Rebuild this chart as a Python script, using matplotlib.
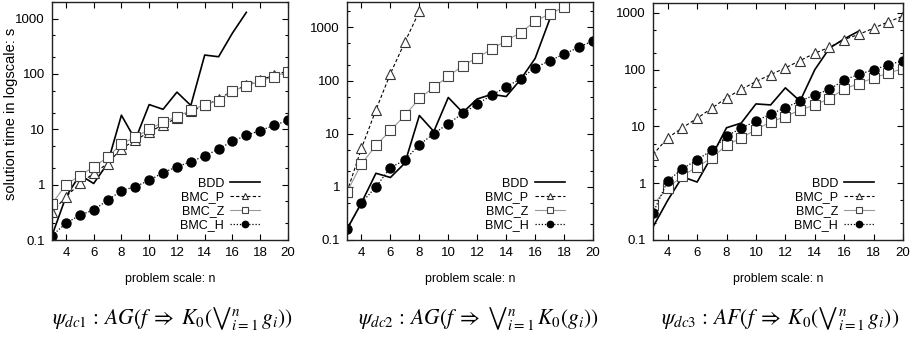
#!/usr/bin/env python

import matplotlib
matplotlib.use("Agg")
import matplotlib.pyplot as plt
from matplotlib.ticker import LogLocator, NullFormatter

# problem scale n
n = list(range(3, 21))

# psi_dc1
dc1_bdd = [0.12, 0.6, 1.5, 1.05, 2.4, 18, 6.5, 28, 23, 47, 27, 220, 205, 550, 1300]
dc1_p = [0.32, 0.6, 1.05, 1.6, 2.4, 4.5, 6.3, 9, 12, 16, 21, 27, 35, 50, 62, 78, 95, 115]
dc1_z = [0.45, 1.0, 1.45, 2.1, 3.1, 5.5, 7.2, 10, 13.5, 17, 22, 28, 33, 50, 60, 75, 90, 110]
dc1_h = [0.12, 0.2, 0.28, 0.35, 0.52, 0.78, 0.92, 1.2, 1.65, 2.1, 2.6, 3.3, 4.4, 6.1, 7.8, 9.5, 11.8, 14.5]

# psi_dc2
dc2_bdd = [0.16, 0.5, 1.8, 1.5, 2.8, 22, 11, 48, 25, 45, 55, 50, 105, 260, 1400]
dc2_p = [0.8, 5.3, 28, 135, 530, 2000]
dc2_z = [0.8, 2.7, 6, 11.5, 22, 46, 75, 120, 190, 270, 390, 560, 800, 1300, 1800, 2400]
dc2_h = [0.16, 0.5, 1.0, 2.3, 3.2, 6.2, 10, 15.5, 24, 36, 53, 76, 108, 175, 235, 315, 420, 560]

# psi_dc3
dc3_bdd = [0.17, 0.5, 1.3, 1.05, 3.0, 9.5, 11.5, 25, 24, 48, 28, 100, 240, 350, 480]
dc3_p = [3.2, 6.3, 9.5, 14, 21, 32, 45, 62, 82, 108, 145, 195, 250, 340, 420, 540, 700, 880]
dc3_z = [0.42, 0.82, 1.35, 1.95, 2.8, 4.7, 6.3, 8.8, 12, 15, 19.5, 24, 31, 46, 57, 72, 87, 105]
dc3_h = [0.3, 1.1, 1.8, 2.6, 3.8, 6.8, 9.3, 12.5, 16.5, 21.5, 28, 36, 45, 66, 83, 100, 122, 145]

y_ticks = [0.1, 1, 10, 100, 1000]
y_tick_labels = ["0.1", "1", "10", "100", "1000"]
x_ticks = [4, 6, 8, 10, 12, 14, 16, 18, 20]

captions = [
    r"$\psi_{dc1}\,:\,AG(f\;\Rightarrow\;K_0({\bigvee}_{i=1}^{n}\, g_i))$",
    r"$\psi_{dc2}\,:\,AG(f\;\Rightarrow\;{\bigvee}_{i=1}^{n}\, K_0(g_i))$",
    r"$\psi_{dc3}\,:\,AF(f\;\Rightarrow\;K_0({\bigvee}_{i=1}^{n}\, g_i))$",
]

plt.rcParams["font.family"] = ["Liberation Sans", "DejaVu Sans"]
plt.rcParams["mathtext.fontset"] = "stix"


def plot_curve(fig_ax, bdd, p, z, h, y_max, y_label=None, label_x=None):
    """Draw the four solvers on one log-scale panel."""
    fig_ax.plot(n[:len(bdd)], bdd, color="black", lw=1.2, label="BDD")
    fig_ax.plot(n[:len(p)], p, color="black", lw=0.8, ls=(0, (3, 2)),
                marker="^", ms=6.5, mfc="white", mec="#333333", mew=0.8, label="BMC_P")
    fig_ax.plot(n[:len(z)], z, color="#999999", lw=0.8,
                marker="s", ms=7, mfc="white", mec="#444444", mew=0.8, label="BMC_Z")
    fig_ax.plot(n[:len(h)], h, color="black", lw=0.9, ls=(0, (1, 1.5)),
                marker="o", ms=6.5, mfc="black", mec="black", label="BMC_H")

    fig_ax.set_yscale("log")
    fig_ax.set_xlim(3, 20)
    fig_ax.set_ylim(0.1, y_max)
    fig_ax.set_yticks(y_ticks)
    fig_ax.set_yticklabels(y_tick_labels)
    fig_ax.yaxis.set_minor_locator(LogLocator(base=10, subs=(2, 5)))
    fig_ax.yaxis.set_minor_formatter(NullFormatter())
    fig_ax.set_xticks(x_ticks)
    fig_ax.tick_params(which="both", direction="in", top=True, right=True,
                       labelsize=9.5, width=0.8)
    fig_ax.tick_params(which="major", length=4, pad=5)
    fig_ax.tick_params(which="minor", length=2.5)
    for s in fig_ax.spines.values():
        s.set_linewidth(1.0)
        s.set_color("#222222")

    fig_ax.set_xlabel("problem scale: n", fontsize=8.8, labelpad=10)
    if y_label is not None:
        fig_ax.set_ylabel(y_label, fontsize=10.5)
        fig_ax.yaxis.set_label_coords(label_x, 0.53)

    leg = fig_ax.legend(loc="lower right", frameon=False, markerfirst=False,
                        fontsize=9, handlelength=2.4, handletextpad=0.5,
                        labelspacing=0.15, markerscale=0.7,
                        borderaxespad=0.3, bbox_to_anchor=(0.92, 0.0))
    return leg


def main():
    fig = plt.figure(figsize=(9.21, 3.37), dpi=100)
    H = 337.0
    W = 921.0
    # left, right, top, bottom in pixels
    boxes = [(52, 288, 2, 240), (347, 593, 2, 240), (653, 903, 3, 240)]
    data = [(dc1_bdd, dc1_p, dc1_z, dc1_h, 2000),
            (dc2_bdd, dc2_p, dc2_z, dc2_h, 3000),
            (dc3_bdd, dc3_p, dc3_z, dc3_h, 1500)]
    centers = [172, 478, 780]

    for i, (box, d) in enumerate(zip(boxes, data)):
        l, r, t, b = box
        ax = fig.add_axes([l / W, 1 - b / H, (r - l) / W, (b - t) / H])
        plot_curve(ax, *d, y_label="solution time in logscale: s" if i == 0 else None,
                   label_x=(18 - l) / (r - l))
        fig.text(centers[i] / W, 1 - 318 / H, captions[i], fontsize=15.5,
                 ha="center", va="center")

    fig.savefig("out.png", dpi=100)


if __name__ == '__main__':
    main()
